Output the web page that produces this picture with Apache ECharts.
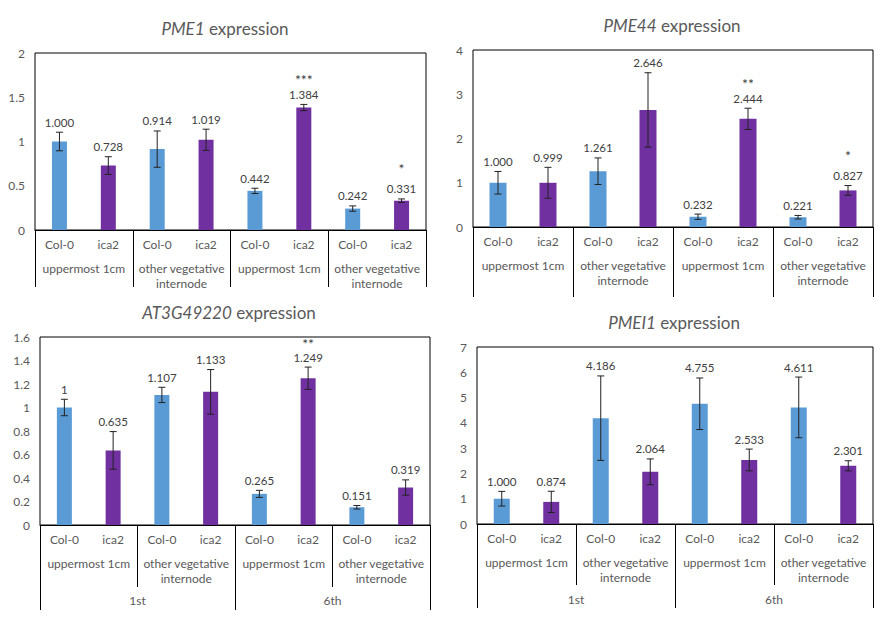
<!DOCTYPE html>
<html>
<head>
<meta charset="utf-8">
<script src="https://cdn.jsdelivr.net/npm/echarts@6/dist/echarts.min.js"></script>
<style>html,body{margin:0;padding:0;background:#fff}#c{width:889px;height:617px}</style>
</head>
<body>
<div id="c"></div>
<script>
// ---- data ----
const genotypes = ['Col-0','ica2','Col-0','ica2','Col-0','ica2','Col-0','ica2'];
const tissues = ['uppermost 1cm','other vegetative\ninternode','uppermost 1cm','other vegetative\ninternode'];
const internodes = ['1st','6th'];

const pme1Values = [1.000,0.728,0.914,1.019,0.442,1.384,0.242,0.331];
const pme1Errors = [0.105,0.10,0.205,0.12,0.03,0.035,0.03,0.02];
const pme1Labels = ['1.000','0.728','0.914','1.019','0.442','1.384','0.242','0.331'];
const pme1Stars  = ['','','','','','***','','*'];

const pme44Values = [1.000,0.999,1.261,2.646,0.232,2.444,0.221,0.827];
const pme44Errors = [0.255,0.35,0.30,0.84,0.06,0.24,0.04,0.11];
const pme44Labels = ['1.000','0.999','1.261','2.646','0.232','2.444','0.221','0.827'];
const pme44Stars  = ['','','','','','**','','*'];

const at3Values = [1,0.635,1.107,1.133,0.265,1.249,0.151,0.319];
const at3Errors = [0.07,0.16,0.065,0.19,0.03,0.095,0.015,0.065];
const at3Labels = ['1','0.635','1.107','1.133','0.265','1.249','0.151','0.319'];
const at3Stars  = ['','','','','','**','',''];

const pmei1Values = [1.000,0.874,4.186,2.064,4.755,2.533,4.611,2.301];
const pmei1Errors = [0.29,0.42,1.67,0.51,1.02,0.43,1.2,0.2];
const pmei1Labels = ['1.000','0.874','4.186','2.064','4.755','2.533','4.611','2.301'];
const pmei1Stars  = ['','','','','','','',''];

const yTicks = [[0,2,0.5],[0,4,1],[0,1.6,0.2],[0,7,1]];

// ---- styles ----
const FONT = 'Lato, "Open Sans", sans-serif';
const colors = {'Col-0':'#5B9BD5','ica2':'#7030A0'};
const grey = '#595959';

const panels = [
  {gene:'PME1', v:pme1Values, e:pme1Errors, l:pme1Labels, s:pme1Stars, y:yTicks[0], tier:false,
   grid:{left:35,top:53,width:391,height:177}, tick:57, tx:220, ty:26, bw:15, starOff:15},
  {gene:'PME44', v:pme44Values, e:pme44Errors, l:pme44Labels, s:pme44Stars, y:yTicks[1], tier:false,
   grid:{left:473,top:50,width:400,height:177}, tick:70, tx:667, ty:23, bw:17, starOff:15},
  {gene:'AT3G49220', v:at3Values, e:at3Errors, l:at3Labels, s:at3Stars, y:yTicks[2], tier:true,
   grid:{left:40,top:337,width:390,height:188}, tick:62, tierTick:85, tx:224, ty:310, bw:15, starOff:14},
  {gene:'PMEI1', v:pmei1Values, e:pmei1Errors, l:pmei1Labels, s:pmei1Stars, y:yTicks[3], tier:true,
   grid:{left:477,top:347,width:396,height:177}, tick:61, tierTick:84, tx:669, ty:320, bw:16, starOff:15}
];

const option = {animation:false, title:[], grid:[], xAxis:[], yAxis:[], series:[]};

panels.forEach((p, i) => {
  option.title.push({
    text:'{it|' + p.gene + '}{n| expression}',
    left:p.tx, top:p.ty - 11, textAlign:'center',
    textStyle:{fontWeight:'normal', rich:{
      it:{fontStyle:'italic', fontWeight:'normal', fontSize:17, color:grey, fontFamily:FONT},
      n:{fontWeight:'normal', fontSize:17, color:grey, fontFamily:FONT}
    }}
  });
  option.grid.push(Object.assign({show:true, borderColor:'#000', borderWidth:1, containLabel:false}, p.grid));
  const mainX = option.xAxis.length;
  option.xAxis.push({
    type:'category', gridIndex:i, data:genotypes, position:'bottom',
    axisLine:{show:true, lineStyle:{color:'#000', width:1}},
    axisTick:{show:false},
    axisLabel:{color:grey, fontSize:12, fontFamily:FONT, margin:8, interval:0}
  });
  option.xAxis.push({
    type:'category', gridIndex:i, data:tissues, position:'bottom',
    axisLine:{show:false},
    axisTick:{show:true, interval:0, length:p.tick, lineStyle:{color:'#000', width:1}},
    axisLabel:{color:grey, fontSize:12, fontFamily:FONT, margin:31, interval:0, lineHeight:15}
  });
  if (p.tier) {
    option.xAxis.push({
      type:'category', gridIndex:i, data:internodes, position:'bottom',
      axisLine:{show:false},
      axisTick:{show:true, interval:0, length:p.tierTick, lineStyle:{color:'#000', width:1}},
      axisLabel:{color:grey, fontSize:12, fontFamily:FONT, margin:69, interval:0}
    });
  }
  option.yAxis.push({
    type:'value', gridIndex:i, min:p.y[0], max:p.y[1], interval:p.y[2],
    axisLine:{show:false}, axisTick:{show:false}, splitLine:{show:false},
    axisLabel:{color:grey, fontSize:12, fontFamily:FONT, margin:10}
  });
  option.series.push({
    type:'bar', xAxisIndex:mainX, yAxisIndex:i, barWidth:p.bw,
    data:p.v.map((val, k) => ({value:val, itemStyle:{color:colors[genotypes[k]]}}))
  });
  option.series.push({
    type:'custom', xAxisIndex:mainX, yAxisIndex:i, z:10,
    data:p.v.map((val, k) => [k, val, p.e[k]]),
    renderItem:(params, api) => {
      const k = api.value(0), val = api.value(1), err = api.value(2);
      const top = api.coord([k, val + err]);
      const bot = api.coord([k, Math.max(0, val - err)]);
      const x = top[0], hw = 3.5;
      const children = [
        {type:'line', shape:{x1:x, y1:top[1], x2:x, y2:bot[1]}, style:{stroke:'#222', lineWidth:1}},
        {type:'line', shape:{x1:x-hw, y1:top[1], x2:x+hw, y2:top[1]}, style:{stroke:'#222', lineWidth:1}},
        {type:'line', shape:{x1:x-hw, y1:bot[1], x2:x+hw, y2:bot[1]}, style:{stroke:'#222', lineWidth:1}},
        {type:'text', x:x, y:top[1] - 10, style:{text:p.l[k], fill:'#404040', fontSize:11.5, fontFamily:FONT, align:'center', verticalAlign:'middle'}}
      ];
      const st = p.s[k];
      if (st) {
        children.push({type:'text', x:x, y:top[1] - 10 - (st.length === 1 ? p.starOff + 5 : p.starOff),
          style:{text:st, fill:'#404040', fontSize:14, fontFamily:FONT, align:'center', verticalAlign:'middle'}});
      }
      return {type:'group', children:children};
    }
  });
});

const chart = echarts.init(document.getElementById('c'), null, {renderer:'svg'});
chart.setOption(option);
</script>
</body>
</html>
